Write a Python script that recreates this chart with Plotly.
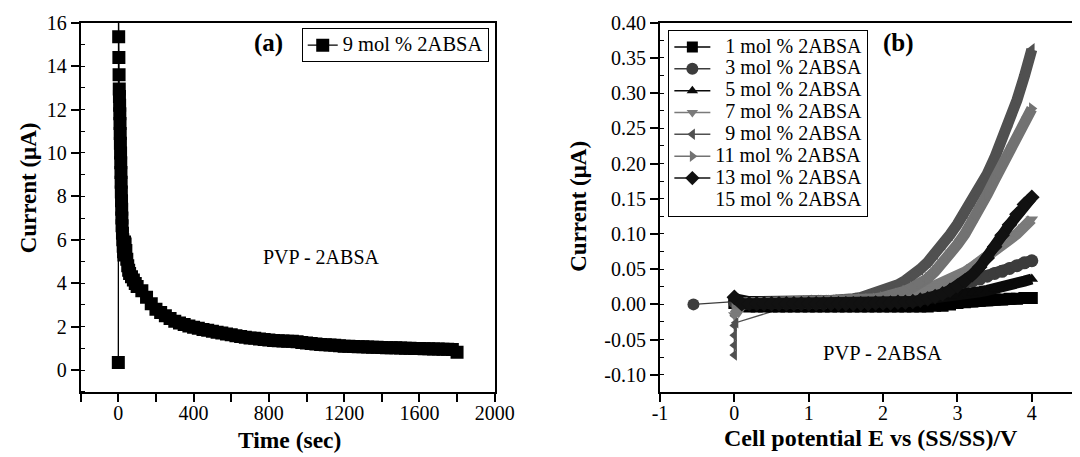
import plotly.graph_objects as go

FONT = "Liberation Serif"

# ---------------- Panel (a): chronoamperometry, 9 mol % 2ABSA ----------------
t_a = [0, 1, 2, 3, 4, 5, 6, 7, 8, 9, 10, 11, 12, 13, 14, 15, 16, 17, 18, 19, 20,
       22, 24, 26, 28, 30, 33, 36, 40, 45, 50, 55, 60, 70, 80, 90, 100,
       125, 150, 175, 200, 225, 250, 275, 300, 325, 350, 375, 400, 425, 450, 475, 500,
       525, 550, 575, 600, 625, 650, 675, 700, 725, 750, 775, 800, 825, 850, 875, 900,
       925, 950, 975, 1000, 1025, 1050, 1075, 1100, 1125, 1150, 1175, 1200, 1225, 1250,
       1275, 1300, 1325, 1350, 1375, 1400, 1425, 1450, 1475, 1500, 1525, 1550, 1575,
       1600, 1625, 1650, 1675, 1700, 1725, 1750, 1775, 1800]
i_a = [0.35, 17.0, 15.35, 14.4, 13.6, 12.95, 12.6, 12.2, 11.8, 11.35, 10.9, 10.45, 10.0,
       9.55, 9.1, 8.65, 8.2, 7.8, 7.4, 7.0, 6.65,
       6.3, 6.0, 5.7, 5.45, 5.3, 5.9, 5.8, 5.5, 5.1, 4.8, 4.6, 4.45, 4.3, 4.15, 3.98, 3.85,
       3.65, 3.35, 3.05, 2.8, 2.65, 2.5, 2.37, 2.25, 2.17, 2.1, 2.03, 1.97, 1.92, 1.87, 1.83, 1.78,
       1.74, 1.70, 1.66, 1.62, 1.58, 1.54, 1.51, 1.48, 1.46, 1.43, 1.40, 1.38, 1.36, 1.35, 1.34, 1.33,
       1.32, 1.30, 1.27, 1.24, 1.22, 1.20, 1.18, 1.16, 1.15, 1.14, 1.12, 1.10, 1.09, 1.08,
       1.07, 1.07, 1.06, 1.05, 1.05, 1.04, 1.03, 1.02, 1.02, 1.01, 1.00, 1.00, 0.99,
       0.99, 0.98, 0.98, 0.97, 0.97, 0.96, 0.96, 0.95, 0.82]

# ---------------- Panel (b): linear sweep voltammetry ----------------
E = [round(0.1 * k, 1) for k in range(41)]

i_1 = [0.002, -0.002, -0.003, -0.003, -0.003, -0.003, -0.003, -0.003, -0.003, -0.003,
       -0.003, -0.003, -0.003, -0.003, -0.003, -0.003, -0.003, -0.003, -0.003, -0.003,
       -0.003, -0.003, -0.003, -0.003, -0.003, -0.003, -0.003, -0.002, -0.002, 0.000,
       0.002, 0.003, 0.004, 0.005, 0.006, 0.007, 0.007, 0.008, 0.008, 0.009, 0.009]
e3_lead = [-0.55, 0.0]
i3_lead = [0.000, 0.004]
i_3 = [0.004, 0.002, 0.002, 0.002, 0.002, 0.002, 0.002, 0.002, 0.002, 0.002,
       0.002, 0.002, 0.002, 0.003, 0.003, 0.003, 0.003, 0.003, 0.003, 0.004,
       0.004, 0.005, 0.006, 0.008, 0.010, 0.012, 0.015, 0.018, 0.021, 0.024,
       0.027, 0.030, 0.033, 0.036, 0.040, 0.044, 0.047, 0.051, 0.055, 0.059, 0.062]
i_5 = [0.008, 0.004, 0.004, 0.004, 0.004, 0.004, 0.004, 0.004, 0.004, 0.004,
       0.004, 0.004, 0.004, 0.004, 0.004, 0.004, 0.004, 0.004, 0.004, 0.004,
       0.004, 0.004, 0.004, 0.005, 0.006, 0.007, 0.008, 0.009, 0.010, 0.012,
       0.013, 0.015, 0.016, 0.018, 0.020, 0.022, 0.025, 0.027, 0.030, 0.033, 0.036]
i_7 = [-0.015, 0.000, 0.002, 0.002, 0.002, 0.002, 0.002, 0.002, 0.002, 0.002,
       0.002, 0.002, 0.002, 0.003, 0.003, 0.003, 0.004, 0.004, 0.005, 0.005,
       0.006, 0.008, 0.010, 0.012, 0.015, 0.018, 0.022, 0.026, 0.031, 0.036,
       0.041, 0.046, 0.053, 0.060, 0.068, 0.076, 0.084, 0.092, 0.100, 0.110, 0.121]
e9_lead = [0.0, 0.0, 0.0, 0.0, 0.0, 0.0, 0.02, 0.76]
i9_lead = [-0.004, -0.016, -0.030, -0.044, -0.058, -0.072, -0.026, -0.002]
i_9 = [None, None, None, None, None, None, None, None, 0.002, 0.004,
       0.005, 0.005, 0.005, 0.005, 0.005, 0.006, 0.008, 0.010, 0.013, 0.016,
       0.019, 0.023, 0.028, 0.034, 0.041, 0.050, 0.060, 0.072, 0.085, 0.099,
       0.114, 0.130, 0.147, 0.165, 0.185, 0.208, 0.233, 0.260, 0.290, 0.324, 0.362]
i_11 = [0.002, 0.002, 0.002, 0.002, 0.002, 0.002, 0.002, 0.002, 0.002, 0.003,
        0.004, 0.004, 0.005, 0.005, 0.006, 0.006, 0.006, 0.007, 0.007, 0.008,
        0.010, 0.012, 0.015, 0.019, 0.024, 0.030, 0.037, 0.047, 0.058, 0.071,
        0.085, 0.100, 0.117, 0.136, 0.156, 0.177, 0.198, 0.218, 0.238, 0.258, 0.278]
i_13 = [0.010, 0.001, 0.001, 0.001, 0.001, 0.001, 0.001, 0.001, 0.001, 0.001,
        0.001, 0.001, 0.001, 0.001, 0.001, 0.001, 0.001, 0.001, 0.001, 0.002,
        0.002, 0.002, 0.003, 0.003, 0.004, 0.006, 0.008, 0.011, 0.015, 0.020,
        0.026, 0.033, 0.042, 0.053, 0.066, 0.082, 0.098, 0.113, 0.128, 0.142, 0.152]

labels_b = ["\u20071 mol % 2ABSA", "\u20073 mol % 2ABSA", "\u20075 mol % 2ABSA",
            "\u20077 mol % 2ABSA", "\u20079 mol % 2ABSA", "11 mol % 2ABSA",
            "13 mol % 2ABSA", "15 mol % 2ABSA"]
series_b = [i_1, i_3, i_5, i_7, i_9, i_11, i_13]
colors_b = ["#000000", "#3c3c3c", "#0a0a0a", "#7a7a7a", "#505050", "#727272", "#111111"]
symbols_b = ["square", "circle", "triangle-up", "triangle-down", "triangle-left",
             "triangle-right", "diamond"]
msize_b = [11, 12, 10, 10, 10, 10, 11]

y_ticks_b = [-0.10, -0.05, 0.00, 0.05, 0.10, 0.15, 0.20, 0.25, 0.30, 0.35, 0.40]
y_text_b = ["-0.10", "-0.05", "0.00", "0.05", "0.10", "0.15", "0.20", "0.25", "0.30", "0.35", "0.40"]
x_ticks_b = [-1, 0, 1, 2, 3, 4]
x_text_b = ["-1", "0", "1", "2", "3", "4"]


def lg(txt, size=20):
    return '<span style="font-size:%spx">' % size + txt + '</span>'


fig = go.Figure()

# panel (a)
fig.add_trace(go.Scatter(
    x=t_a, y=i_a, mode="lines+markers", xaxis="x", yaxis="y",
    line=dict(color="black", width=1.3),
    marker=dict(symbol="square", size=13, color="black"),
    name=lg("9 mol % 2ABSA", 20.5), legend="legend"))

# panel (b) lead-in (thin line) segments
fig.add_trace(go.Scatter(
    x=e3_lead, y=i3_lead, mode="lines+markers", xaxis="x2", yaxis="y2",
    line=dict(color=colors_b[1], width=1.3),
    marker=dict(symbol="circle", size=12, color=colors_b[1]), showlegend=False))
fig.add_trace(go.Scatter(
    x=e9_lead, y=i9_lead, mode="lines+markers", xaxis="x2", yaxis="y2",
    line=dict(color=colors_b[4], width=1.3),
    marker=dict(symbol="triangle-left", size=10, color=colors_b[4]), showlegend=False))

# panel (b) main dense curves
for ys, c, s, ms in zip(series_b, colors_b, symbols_b, msize_b):
    fig.add_trace(go.Scatter(
        x=E, y=ys, mode="lines+markers", xaxis="x2", yaxis="y2",
        line=dict(color=c, width=11),
        marker=dict(symbol=s, size=ms + 1, color=c), showlegend=False))

# panel (b) legend entries
for k, lab in enumerate(labels_b):
    if k < len(colors_b):
        fig.add_trace(go.Scatter(
            x=[None], y=[None], mode="lines+markers", xaxis="x2", yaxis="y2",
            line=dict(color=colors_b[k], width=1.5),
            marker=dict(symbol=symbols_b[k], size=msize_b[k], color=colors_b[k]),
            name=lg(lab), legend="legend2"))
    else:
        fig.add_trace(go.Scatter(
            x=[None], y=[None], mode="markers", xaxis="x2", yaxis="y2",
            marker=dict(size=1, color="rgba(0,0,0,0)"),
            name=lg(lab), legend="legend2"))

tickfont = dict(family=FONT, size=20, color="black")
axis_common = dict(showgrid=False, zeroline=False, showline=True, linecolor="black",
                   linewidth=2, ticks="outside", ticklen=8, tickwidth=1.5,
                   tickcolor="black", tickfont=tickfont, automargin=False)

# page body has an 8px margin: figure is 1072x449 and shifted by (8, 8)
W, H = 1072, 449
YDOM = [0.1454, 0.9673]

fig.update_layout(
    template="none",
    width=W, height=H, autosize=False,
    margin=dict(l=0, r=0, t=0, b=0, pad=0, autoexpand=False),
    paper_bgcolor="white", plot_bgcolor="white",
    font=dict(family=FONT, color="black"),
    xaxis=dict(domain=[0.0678, 0.4540], range=[-200, 2000], tickmode="linear",
               tick0=0, dtick=400, mirror=True, ticklabelstandoff=-6,
               minor=dict(tickmode="linear", tick0=0, dtick=200, ticks="outside",
                          ticklen=8, tickwidth=1.5, tickcolor="black", showgrid=False),
               anchor="y", **axis_common),
    yaxis=dict(domain=YDOM, range=[-1, 16], tickmode="linear", tick0=0, dtick=2,
               mirror=True,
               minor=dict(tickmode="linear", tick0=0, dtick=1, ticks="inside",
                          ticklen=4, tickwidth=1.2, tickcolor="black", showgrid=False),
               anchor="x", **axis_common),
    xaxis2=dict(domain=[0.6082, 1.0], range=[-1, 4.648], tickmode="array",
                tickvals=x_ticks_b, ticktext=x_text_b, mirror=True, ticklabelstandoff=-6,
                anchor="y2", **axis_common),
    yaxis2=dict(domain=YDOM, range=[-0.124, 0.40], tickmode="array",
                tickvals=y_ticks_b, ticktext=y_text_b, mirror=False,
                minor=dict(tickmode="linear", tick0=0, dtick=0.025, ticks="inside",
                           ticklen=4, tickwidth=1.2, tickcolor="black", showgrid=False),
                anchor="x2", **axis_common),
    legend=dict(x=0.274, y=0.9548, xanchor="left", yanchor="top",
                bordercolor="black", borderwidth=1, bgcolor="white",
                font=dict(family=FONT, size=14.5, color="black"),
                tracegroupgap=0, itemwidth=30),
    legend2=dict(x=0.616, y=0.951, xanchor="left", yanchor="top",
                 bordercolor="black", borderwidth=1, bgcolor="white",
                 font=dict(family=FONT, size=14.5, color="black"),
                 tracegroupgap=0, itemwidth=36),
)


def note(text, x, y, size, angle=0):
    return dict(text=text, x=x, y=y, xref="paper", yref="paper", showarrow=False,
                xanchor="center", yanchor="middle", textangle=angle,
                font=dict(family=FONT, size=size, color="black"))


ann = [
    note("<b>(a)</b>", 0.2428, 0.922, 25),
    note("<b>(b)</b>", 0.8305, 0.922, 25),
    note("PVP - 2ABSA", 0.2926, 0.4461, 20),
    note("PVP - 2ABSA", 0.8158, 0.231, 20.5),
    note("<b>Current (μA)</b>", 0.0187, 0.5984, 23, -90),
    note("<b>Current (μA)</b>", 0.5327, 0.5575, 23, -90),
    note("<b>Time (sec)</b>", 0.2623, 0.0379, 23.5),
    note("<b>Cell potential E vs (SS/SS)/V</b>", 0.8049, 0.0416, 24),
]
fig.update_layout(annotations=ann)

fig.write_html("out.html")
